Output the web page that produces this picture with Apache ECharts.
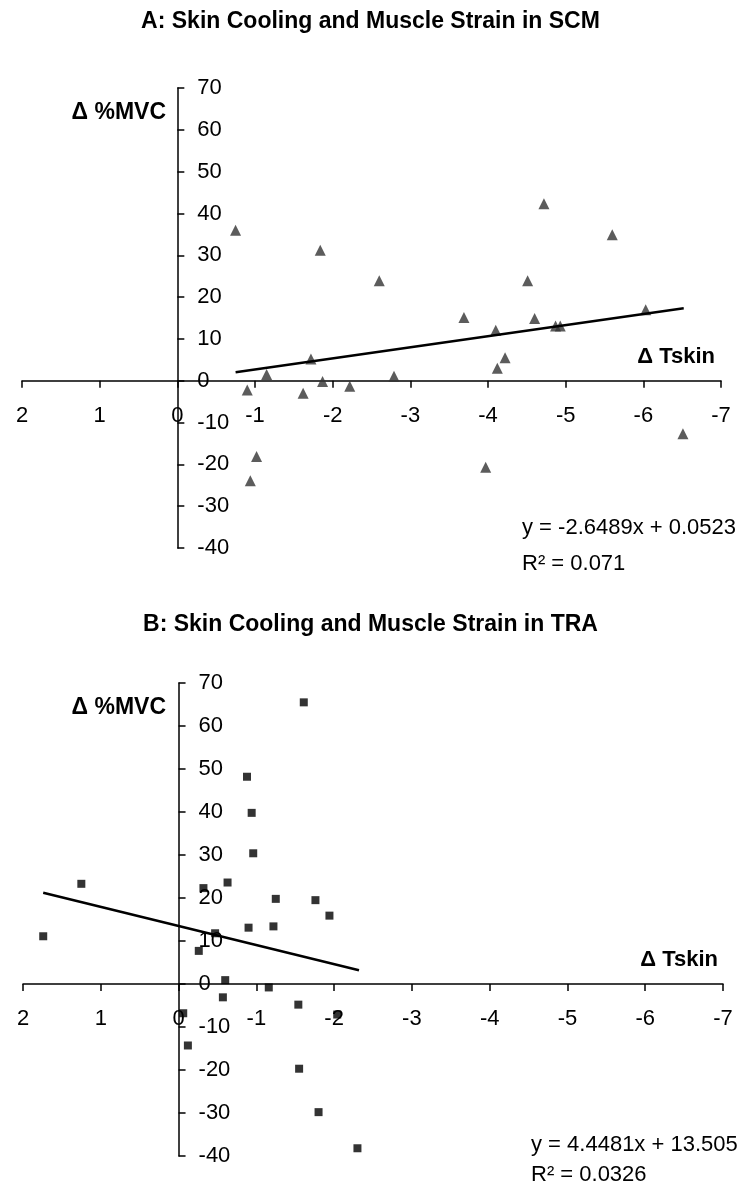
<!DOCTYPE html>
<html>
<head>
<meta charset="utf-8">
<script src="https://cdn.jsdelivr.net/npm/echarts@6/dist/echarts.min.js"></script>
<style>
  html, body { margin: 0; padding: 0; background: #fff; }
  #chart { width: 741px; height: 1184px; }
</style>
</head>
<body>
<div id="chart"></div>
<script>
// data: [delta Tskin, delta %MVC]
const scmPoints = [
  [-0.75, 36.0], [-1.84, 31.2], [-4.72, 42.3], [-5.60, 34.9],
  [-2.60, 23.9], [-4.51, 23.9], [-0.90, -2.2], [-1.15, 1.5],
  [-1.72, 5.2], [-1.62, -3.0], [-1.87, -0.2], [-2.22, -1.3],
  [-1.02, -18.1], [-0.94, -23.9], [-2.79, 1.1], [-3.69, 15.1],
  [-4.10, 12.1], [-4.60, 14.9], [-4.87, 13.1], [-4.93, 13.1],
  [-6.03, 17.0], [-4.22, 5.5], [-4.12, 3.0], [-3.97, -20.7],
  [-6.51, -12.7]
];
const scmTrend = [[-0.75, 2.04], [-6.52, 17.32]];

const traPoints = [
  [-1.61, 65.5], [-0.88, 48.2], [-0.94, 39.8], [-0.96, 30.4],
  [1.25, 23.3], [1.74, 11.1], [-0.32, 22.3], [-0.63, 23.6],
  [-1.25, 19.8], [-1.76, 19.5], [-1.94, 15.9], [-0.90, 13.1],
  [-1.22, 13.4], [-0.47, 11.8], [-0.26, 7.7], [-0.60, 0.9],
  [-1.16, -0.8], [-0.57, -3.1], [-1.54, -4.8], [-0.06, -6.8],
  [-2.04, -7.1], [-0.12, -14.3], [-1.55, -19.7], [-1.80, -29.8],
  [-2.30, -38.2]
];
const traTrend = [[1.74, 21.24], [-2.32, 3.19]];

const xTicks = [2, 1, 0, -1, -2, -3, -4, -5, -6, -7];
const yTicks = [-40, -30, -20, -10, 0, 10, 20, 30, 40, 50, 60, 70];

const titles = ["A: Skin Cooling and Muscle Strain in SCM", "B: Skin Cooling and Muscle Strain in TRA"];
const equations = ["y = -2.6489x + 0.0523", "y = 4.4481x + 13.505"];
const rSquared = ["R\u00b2 = 0.071", "R\u00b2 = 0.0326"];

const font = "'Liberation Sans', Arial, sans-serif";

const grids = [
  { left: 22, right: 20, top: 88, height: 460 },
  { left: 23, right: 18, top: 683, height: 473 }
];

const xMin = xTicks[xTicks.length - 1], xMax = xTicks[0];
const yMin = yTicks[0], yMax = yTicks[yTicks.length - 1];

function xAxisFor(i) {
  // axis drawn at y = 0, moved up from the grid bottom
  const g = grids[i];
  return {
    type: "value",
    gridIndex: i,
    position: "bottom",
    offset: -g.height * (0 - yMin) / (yMax - yMin),
    min: xMin,
    max: xMax,
    interval: 1,
    inverse: true,
    axisLine: { onZero: false, lineStyle: { color: "#000", width: 1.5 } },
    axisTick: { show: true, length: 7, lineStyle: { color: "#000", width: 1.5 } },
    axisLabel: { color: "#000", fontSize: 22, fontFamily: font, margin: 24 },
    splitLine: { show: false }
  };
}

function yAxisFor(i) {
  // axis drawn at x = 0, labels to its right
  const g = grids[i];
  const width = 741 - g.left - g.right;
  return {
    type: "value",
    gridIndex: i,
    position: "right",
    offset: -width * (0 - xMin) / (xMax - xMin),
    min: yMin,
    max: yMax,
    interval: 10,
    axisLine: { onZero: false, lineStyle: { color: "#000", width: 1.5 } },
    axisTick: { show: true, length: 7, lineStyle: { color: "#000", width: 1.5 } },
    axisLabel: { color: "#000", fontSize: 22, fontFamily: font, margin: 20 },
    splitLine: { show: false }
  };
}

function texts(t, p) {
  // p: [titleTop, mvcTop, tskinTop, tskinRight, eqTop, r2Top, eqLeft]
  return [
    { type: "text", left: "center", top: p[0], style: { text: t.title, font: "bold 23px " + font, fill: "#000" } },
    { type: "text", right: 575, top: p[1], style: { text: "\u0394 %MVC", font: "bold 23px " + font, fill: "#000" } },
    { type: "text", right: p[3], top: p[2], style: { text: "\u0394 Tskin", font: "bold 22px " + font, fill: "#000" } },
    { type: "text", left: p[6], top: p[4], style: { text: t.eq, font: "22px " + font, fill: "#000" } },
    { type: "text", left: p[6], top: p[5], style: { text: t.r2, font: "22px " + font, fill: "#000" } }
  ];
}

const dom = document.getElementById("chart");
const chart = echarts.init(dom, null, { renderer: "canvas" });

const option = {
  backgroundColor: "#fff",
  animation: false,
  grid: grids,
  xAxis: [xAxisFor(0), xAxisFor(1)],
  yAxis: [yAxisFor(0), yAxisFor(1)],
  series: [
    {
      name: "SCM",
      type: "scatter",
      xAxisIndex: 0, yAxisIndex: 0,
      symbol: "triangle",
      symbolSize: 11,
      itemStyle: { color: "#333" },
      data: scmPoints
    },
    {
      name: "SCM fit",
      type: "line",
      xAxisIndex: 0, yAxisIndex: 0,
      symbol: "none",
      lineStyle: { color: "#000", width: 2.5 },
      data: scmTrend
    },
    {
      name: "TRA",
      type: "scatter",
      xAxisIndex: 1, yAxisIndex: 1,
      symbol: "rect",
      symbolSize: 8,
      itemStyle: { color: "#000" },
      data: traPoints
    },
    {
      name: "TRA fit",
      type: "line",
      xAxisIndex: 1, yAxisIndex: 1,
      symbol: "none",
      lineStyle: { color: "#000", width: 2.5 },
      data: traTrend
    }
  ],
  graphic: [].concat(
    texts({ title: titles[0], eq: equations[0], r2: rSquared[0] }, [10, 101, 346, 26, 517, 553, 522]),
    texts({ title: titles[1], eq: equations[1], r2: rSquared[1] }, [613, 696, 949, 23, 1134, 1164, 531])
  )
};

chart.setOption(option);
window.addEventListener("resize", function () { chart.resize(); });
</script>
</body>
</html>
